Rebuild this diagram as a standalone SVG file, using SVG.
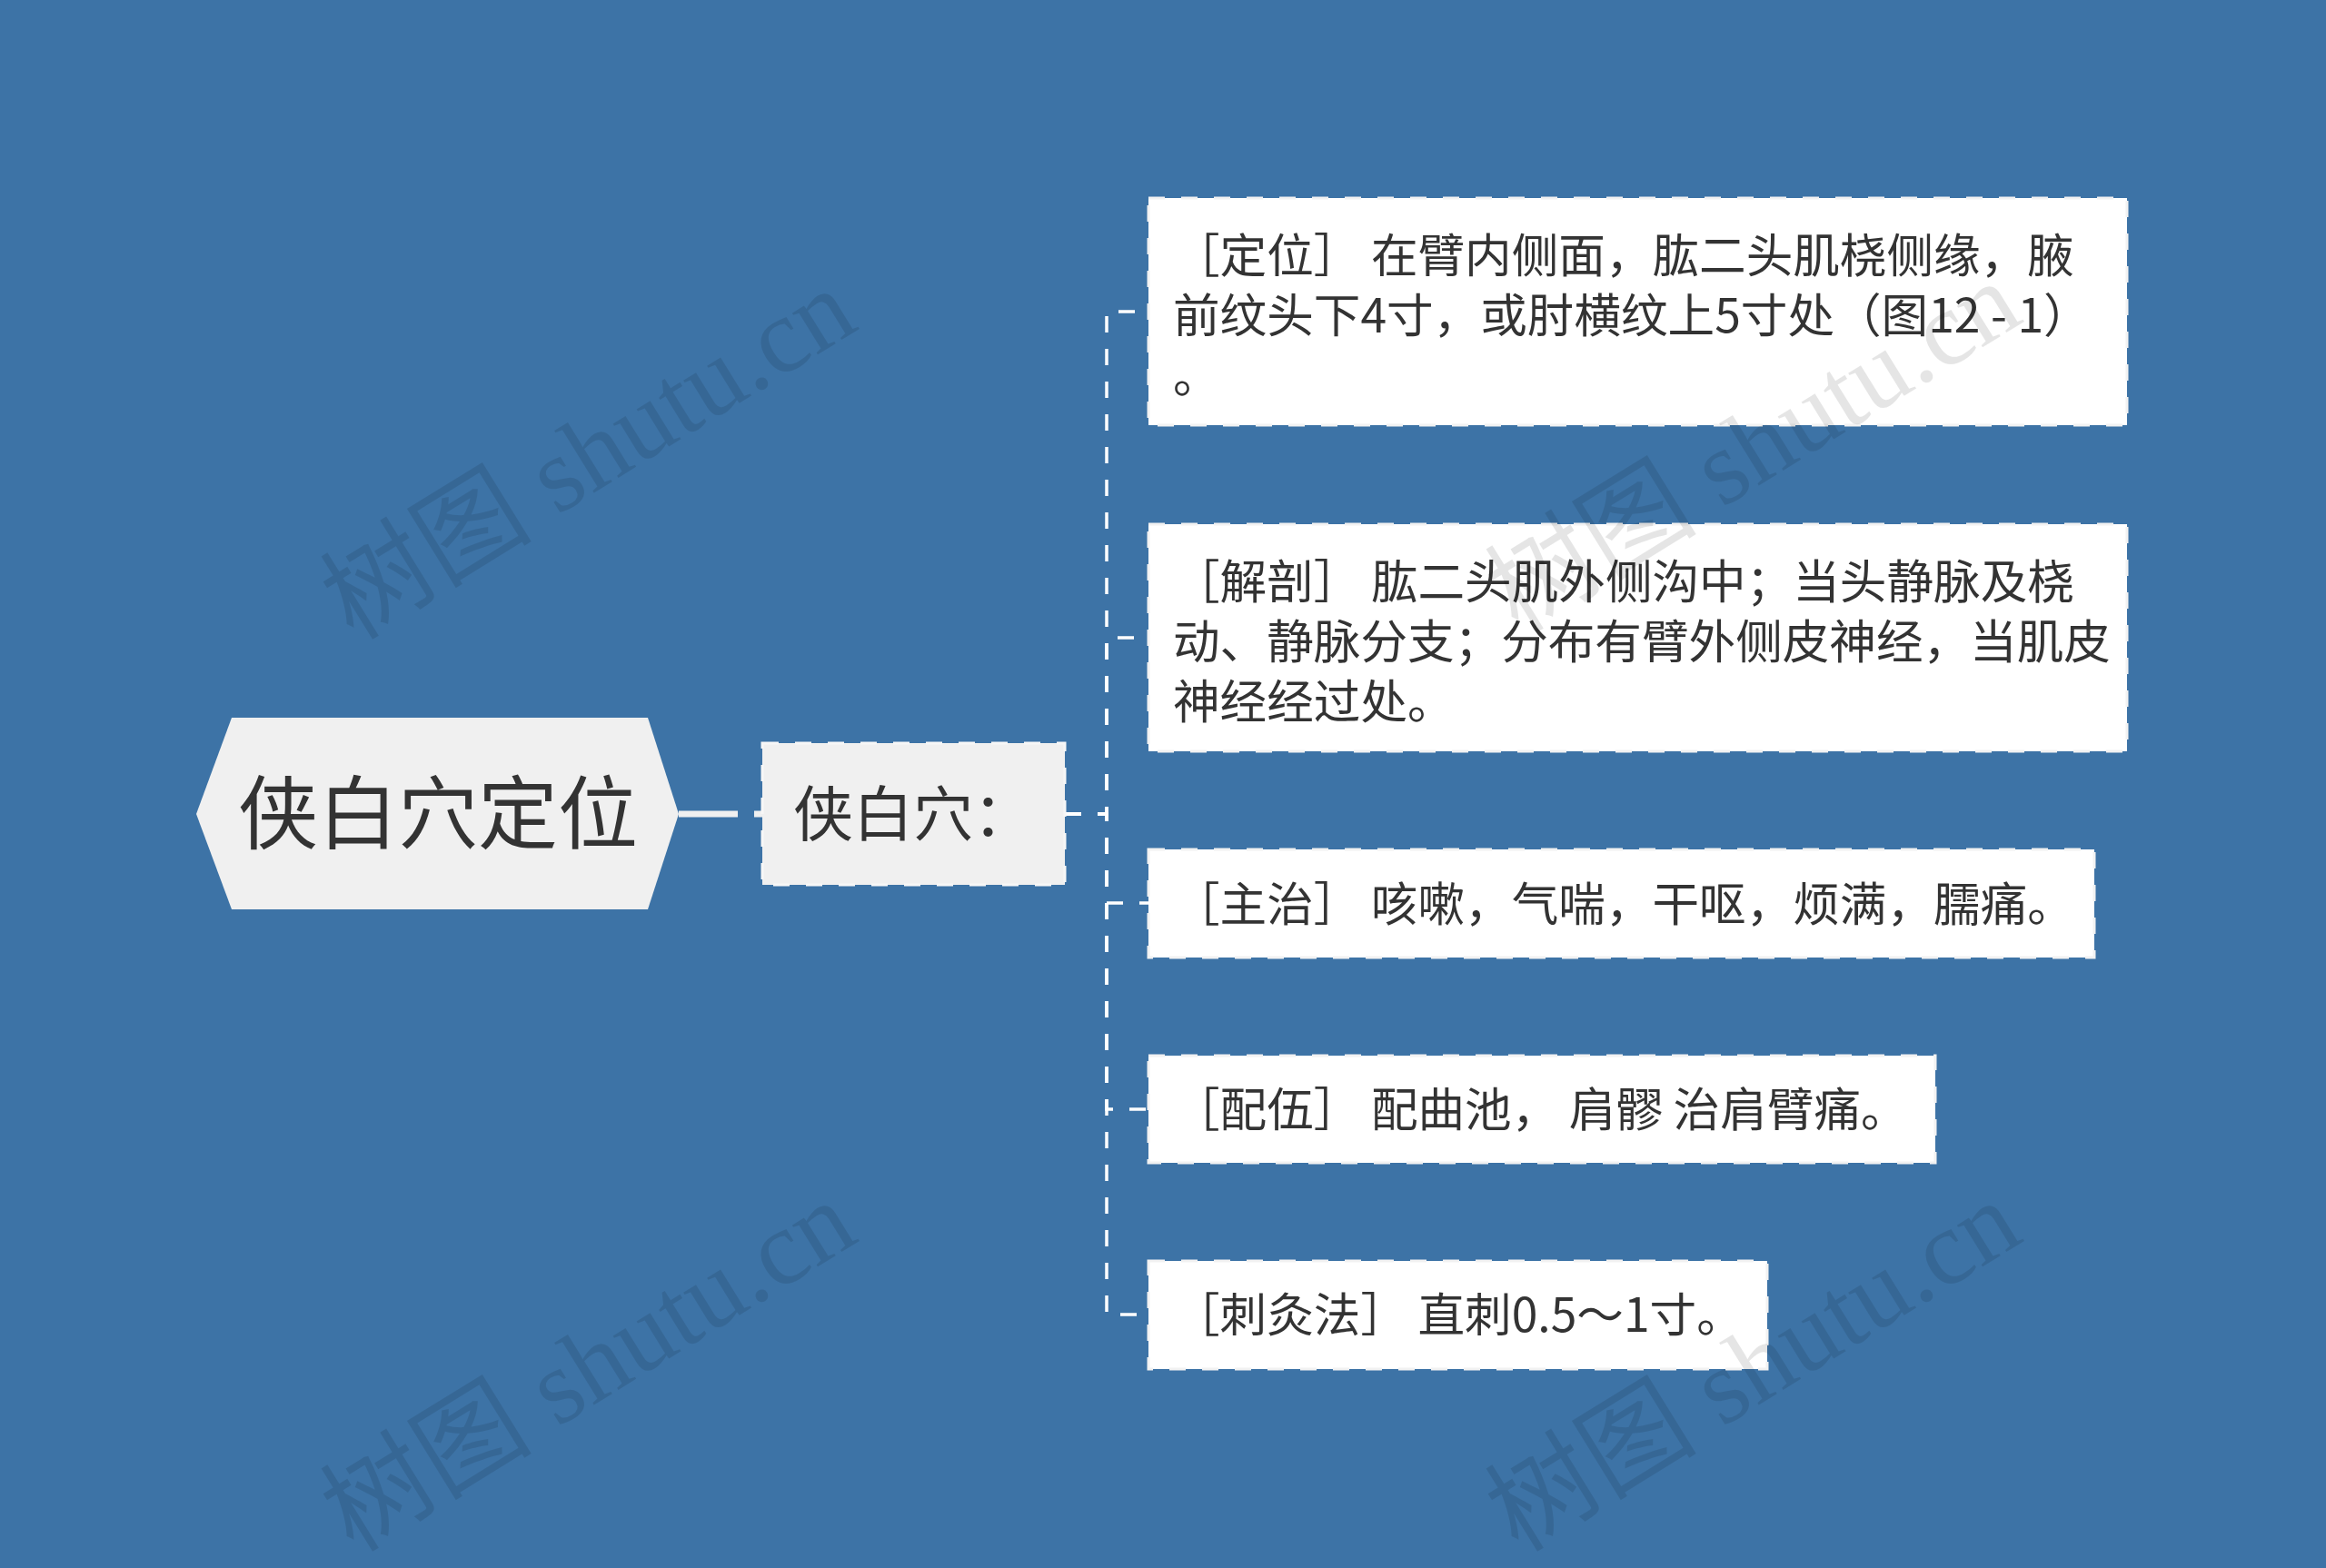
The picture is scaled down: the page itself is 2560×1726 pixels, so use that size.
<svg xmlns="http://www.w3.org/2000/svg" width="2560" height="1726" viewBox="0 0 2560 1726">
<style>
.t{font-family:"Noto Sans CJK SC","Noto Sans",sans-serif;fill:#333333}
.lt{font-size:51.6px}
.leaf rect{fill:#ffffff;stroke:#f2f2f2;stroke-width:3;stroke-dasharray:18 18}
.conn{fill:none;stroke:#ffffff;stroke-width:3.5;stroke-dasharray:18 18}
.wm{font-family:"Liberation Serif","Noto Sans CJK SC",serif;font-size:117px;fill:#000000;fill-opacity:0.1}
</style>
<rect x="0" y="0" width="2560" height="1726" fill="#3d73a6"/>

<g id="connectors">
<path d="M747,896 H840" fill="none" stroke="#f0f0f0" stroke-width="7" stroke-dasharray="65 18"/>
<path class="conn" d="M1172,896 H1218 V343 H1264"/>
<path class="conn" d="M1172,896 H1218 V702 H1264"/>
<path class="conn" d="M1172,896 H1218 V994 H1264"/>
<path class="conn" d="M1172,896 H1218 V1221 H1264"/>
<path class="conn" d="M1172,896 H1218 V1447 H1264"/>
</g>

<g id="root">
<polygon points="216,896 255,790 713,790 747,896 713,1001 255,1001" fill="#f0f0f0"/>
<text class="t" x="482" y="927" font-size="88" text-anchor="middle">侠白穴定位</text>
</g>

<g id="child">
<rect x="839" y="818" width="333" height="156" fill="#f0f0f0" stroke="#f7f7f7" stroke-width="3" stroke-dasharray="18 18"/>
<text class="t" x="873" y="920" font-size="66">侠白穴：</text>
</g>

<g id="leaf1" class="leaf">
<rect x="1264" y="218" width="1077" height="250"/>
<text class="t lt"><tspan x="1291" y="300">［定位］  在臂内侧面，肱二头肌桡侧缘，腋</tspan><tspan x="1291" y="366">前纹头下4寸，或肘横纹上5寸处（图12 - 1）</tspan><tspan x="1291" y="432">。</tspan></text>
</g>

<g id="leaf2" class="leaf">
<rect x="1264" y="577" width="1077" height="250"/>
<text class="t lt"><tspan x="1291" y="659">［解剖］  肱二头肌外侧沟中；当头静脉及桡</tspan><tspan x="1291" y="725">动、静脉分支；分布有臂外侧皮神经，当肌皮</tspan><tspan x="1291" y="791">神经经过处。</tspan></text>
</g>

<g id="leaf3" class="leaf">
<rect x="1264" y="935" width="1041" height="119"/>
<text class="t lt" x="1291" y="1014">［主治］  咳嗽，气喘，干呕，烦满，臑痛。</text>
</g>

<g id="leaf4" class="leaf">
<rect x="1264" y="1162" width="866" height="118"/>
<text class="t lt" x="1291" y="1240">［配伍］  配曲池， 肩髎 治肩臂痛。</text>
</g>

<g id="leaf5" class="leaf">
<rect x="1264" y="1388" width="681" height="119"/>
<text class="t lt" x="1291" y="1466">［刺灸法］  直刺0.5～1寸。</text>
</g>

<g id="watermarks">
<text class="wm" transform="translate(389,706) rotate(-31.7)">树图 shutu.cn</text>
<text class="wm" transform="translate(1671,698) rotate(-31.7)">树图 shutu.cn</text>
<text class="wm" transform="translate(389,1710) rotate(-31.7)">树图 shutu.cn</text>
<text class="wm" transform="translate(1671,1710) rotate(-31.7)">树图 shutu.cn</text>
</g>
</svg>
